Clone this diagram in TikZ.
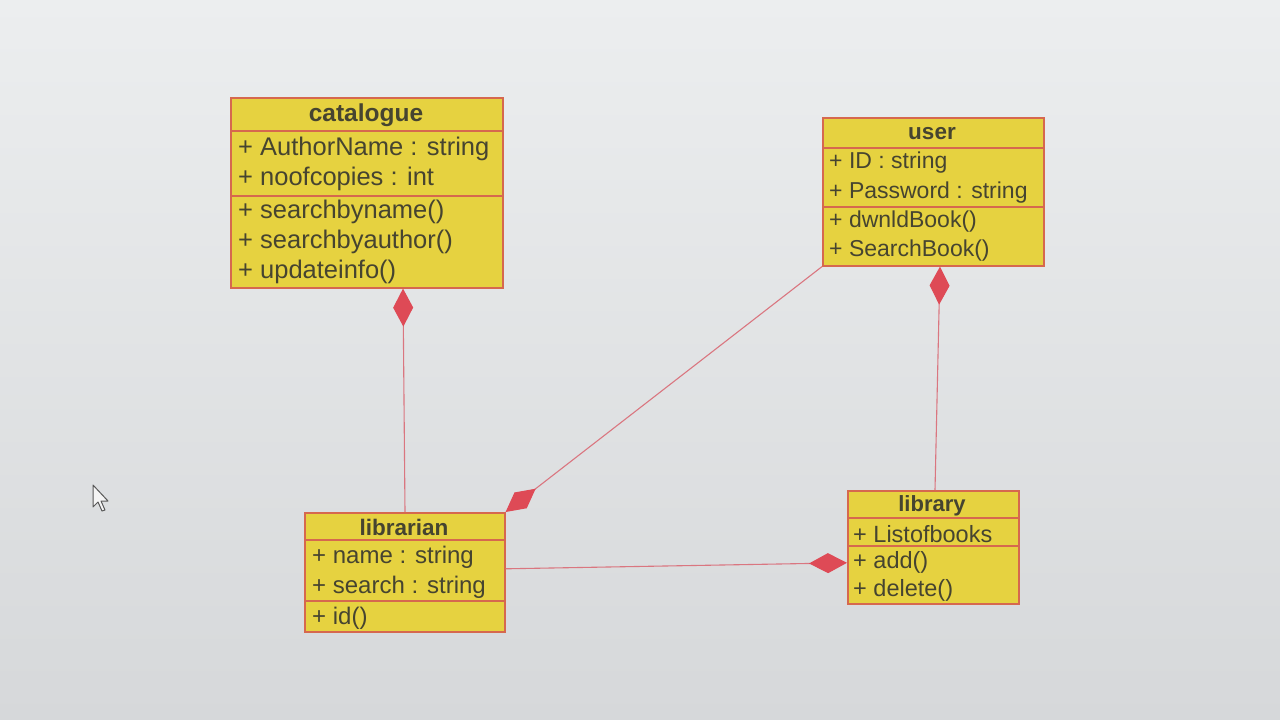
\documentclass[tikz,border=0pt]{standalone}
\usepackage{fontspec}
\setmainfont{Liberation Sans}
\usetikzlibrary{arrows.meta}
\definecolor{bgtop}{RGB}{236,238,239}
\definecolor{bgbot}{RGB}{214,216,218}
\definecolor{boxfill}{RGB}{230,210,64}
\definecolor{boxline}{RGB}{214,104,78}
\definecolor{dia}{RGB}{222,74,86}
\definecolor{txt}{RGB}{70,68,48}
\definecolor{conn}{RGB}{218,118,128}
\tikzset{
  umlbox/.style={draw=boxline, fill=boxfill, line width=1.6pt, anchor=north west, inner sep=0pt},
  sepline/.style={draw=boxline, line width=1.6pt},
  ttl/.style={font=\bfseries, text=txt, inner sep=0pt},
  row/.style={text=txt, anchor=west, inner sep=0pt},
  assoc/.style={draw=conn, line width=1.1pt, -{Diamond[length=38pt,width=20pt,color=dia,fill=dia]}},
}
\begin{document}
\begin{tikzpicture}[x=1pt,y=-1pt]
\shade[top color=bgtop, bottom color=bgbot] (0,0) rectangle (1280,720);
\useasboundingbox (0,0) rectangle (1280,720);

% catalogue
\node[umlbox, minimum width=272pt, minimum height=190pt] (cat) at (230,97) {};
\draw[sepline] (230,131) -- (502,131);
\draw[sepline] (230,196) -- (502,196);
\begin{scope}[every node/.append style={font=\fontsize{25.5}{29}\selectfont}]
\node[ttl, font=\fontsize{24.5}{28}\selectfont\bfseries] (catT) at (366,115) {catalogue};
\node[row] (cat1) at (238,149) {+ AuthorName : string};
\node[row] (cat2) at (238,179) {+ noofcopies : int};
\node[row] (cat3) at (238,212) {+ searchbyname()};
\node[row] (cat4) at (238,242) {+ searchbyauthor()};
\node[row] (cat5) at (238,272) {+ updateinfo()};
\end{scope}

% user
\node[umlbox, minimum width=221pt, minimum height=148pt] (user) at (822,117) {};
\draw[sepline] (822,148) -- (1043,148);
\draw[sepline] (822,207) -- (1043,207);
\begin{scope}[every node/.append style={font=\fontsize{23}{27}\selectfont}]
\node[ttl, font=\fontsize{22.5}{26}\selectfont\bfseries] (userT) at (932,134) {user};
\node[row] (user1) at (829,163) {+ ID : string};
\node[row] (user2) at (829,193) {+ Password : string};
\node[row] (user3) at (829,222) {+ dwnldBook()};
\node[row] (user4) at (829,251) {+ SearchBook()};
\end{scope}

% librarian
\node[umlbox, minimum width=200pt, minimum height=119pt] (libr) at (304,512) {};
\draw[sepline] (304,540) -- (504,540);
\draw[sepline] (304,601) -- (504,601);
\begin{scope}[every node/.append style={font=\fontsize{24}{28}\selectfont}]
\node[ttl, font=\fontsize{22.5}{26}\selectfont\bfseries] (librT) at (404,527) {librarian};
\node[row] (libr1) at (312,557) {+ name : string};
\node[row] (libr2) at (312,587) {+ search : string};
\node[row] (libr3) at (312,618) {+ id()};
\end{scope}

% library
\node[umlbox, minimum width=171pt, minimum height=113pt] (lib) at (847,490) {};
\draw[sepline] (847,518) -- (1018,518);
\draw[sepline] (847,546) -- (1018,546);
\begin{scope}[every node/.append style={font=\fontsize{23.5}{27}\selectfont}]
\node[ttl, font=\fontsize{22}{26}\selectfont\bfseries] (libT) at (932,506) {library};
\node[row] (lib1) at (853,534) {+ Listofbooks};
\node[row] (lib2) at (853,562) {+ add()};
\node[row] (lib3) at (853,590) {+ delete()};
\end{scope}

% connectors (composition)
\draw[assoc] ([xshift=101pt]libr.north west) -- ([xshift=173pt]cat.south west);
\draw[assoc] ([xshift=88pt]lib.north west) -- ([xshift=118pt]user.south west);
\draw[assoc] (user.south west) -- (libr.north east);
\draw[assoc] ([yshift=3.5pt]libr.east) -- ([yshift=-15.5pt]lib.west);

% mouse cursor
\draw[draw=gray!70!black, fill=white!92!gray, line width=1pt, line join=round]
  (93,485) -- (93,507) -- (98,502) -- (102,511) -- (105,510) -- (101,501) -- (108,501) -- cycle;
\end{tikzpicture}
\end{document}
